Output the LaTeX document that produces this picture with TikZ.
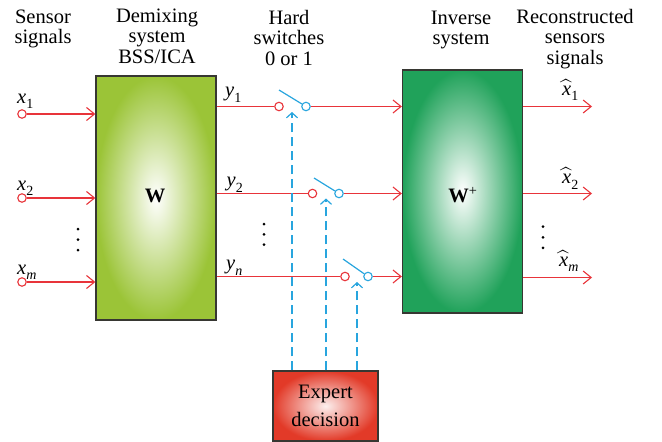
\documentclass[tikz,border=0pt]{standalone}
\usepackage{exscale}
\usepackage{fontspec}
\setmainfont{Liberation Serif}
\usetikzlibrary{arrows.meta}

\definecolor{sigred}{RGB}{232,52,58}
\definecolor{ctlblue}{RGB}{40,165,222}
\definecolor{demixgreen}{RGB}{155,196,55}
\definecolor{invgreen}{RGB}{32,162,90}
\definecolor{expertred}{RGB}{226,58,40}
\definecolor{framegray}{RGB}{55,55,50}

% italic signal names with subscripts
\newcommand{\sig}[2]{\textit{#1}\raisebox{-0.28em}{\fontsize{14}{14}\selectfont\textit{#2}}}
\newcommand{\sigr}[2]{\textit{#1}\raisebox{-0.28em}{\fontsize{14}{14}\selectfont #2}}
% a wide hat set above the italic letter
\newcommand{\hatted}[1]{$\widehat{\mbox{\itshape #1}}$}
\newcommand{\hatsig}[2]{\hatted{#1}\raisebox{-0.28em}{\fontsize{14}{14}\selectfont #2}}

\begin{document}
\begin{tikzpicture}[x=1pt,y=-1pt,
  font=\fontsize{20.5}{20.5}\selectfont,
  every node/.style={inner sep=0pt},
  sigline/.style={draw=sigred, line width=1.1pt},
  sigarrow/.style={sigline, -{Straight Barb[length=8pt,width=13pt]}},
  ctlline/.style={draw=ctlblue, line width=1.2pt},
  ctlarrow/.style={draw=ctlblue, line width=1.8pt, dash pattern=on 9pt off 5pt,
    -{Straight Barb[length=5pt,width=11pt,line width=1.2pt]}},
  port/.style={circle, minimum size=8.5pt, line width=1.1pt, fill=white},
  redport/.style={port, draw=sigred},
  blueport/.style={port, draw=ctlblue},
  block/.style={rectangle, draw=framegray, line width=1.3pt},
  title/.style={align=center, anchor=north},
  lab/.style={anchor=base west},
]
\useasboundingbox (0,0) rectangle (662,442);

% column headings
\node[title] (hsens) at (43,9) {\rule{0pt}{14pt}Sensor\\signals};
\node[title] (hdemix) at (157,8) {\rule{0pt}{14pt}Demixing\\system\\BSS/ICA};
\node[title] (hswitch) at (289,10) {\rule{0pt}{14pt}Hard\\switches\\0 or 1};
\node[title] (hinv) at (461,10) {\rule{0pt}{14pt}Inverse\\system};
\node[title] (hrec) at (575,9) {\rule{0pt}{14pt}Reconstructed\\sensors\\signals};

% processing blocks
\node[block, minimum width=120pt, minimum height=244pt,
      inner color=white, outer color=demixgreen] (demix) at (156,198) {};
\node[block, minimum width=120pt, minimum height=243pt,
      inner color=white, outer color=invgreen] (inv) at (462.5,191.5) {};
\node[block, minimum width=105pt, minimum height=70pt,
      inner color=white!92!expertred, outer color=expertred,
      align=center, font=\fontsize{20.5}{27.5}\selectfont] (expert) at (325.5,406) {Expert\\decision};

\node[anchor=base] (wlab) at (155,202.7) {\textbf{W}};
\node[anchor=base] (wplab) at (463,202.7) {\textbf{W}\textsuperscript{+}};

% sensor inputs
\node[redport] (in1) at (22,114) {};
\node[redport] (in2) at (22,198) {};
\node[redport] (in3) at (22,282) {};
\draw[sigarrow] (in1) -- (in1 -| demix.west);
\draw[sigarrow] (in2) -- (in2 -| demix.west);
\draw[sigarrow] (in3) -- (in3 -| demix.west);

\node[lab] (lx1) at (17,103) {\sigr{x}{1}};
\node[lab] (lx2) at (17,190) {\sigr{x}{2}};
\node[lab] (lx3) at (17,274) {\sig{x}{m}};

% switches: red input contact, blue output contact, open blade
\node[redport] (sw1a) at (279,106.5) {};
\node[blueport] (sw1b) at (306,106.5) {};
\coordinate (tip1) at (279,90);
\node[redport] (sw2a) at (312.5,193.5) {};
\node[blueport] (sw2b) at (339,193.5) {};
\coordinate (tip2) at (314,178);
\node[redport] (sw3a) at (345,276.5) {};
\node[blueport] (sw3b) at (368,276.5) {};
\coordinate (tip3) at (343,259);

\draw[sigline] (demix.east |- sw1a) -- (sw1a);
\draw[sigline] (demix.east |- sw2a) -- (sw2a);
\draw[sigline] (demix.east |- sw3a) -- (sw3a);

\draw[ctlline] (sw1b) -- (tip1);
\draw[ctlline] (sw2b) -- (tip2);
\draw[ctlline] (sw3b) -- (tip3);

\draw[sigarrow] (sw1b) -- (sw1b -| inv.west);
\draw[sigarrow] (sw2b) -- (sw2b -| inv.west);
\draw[sigarrow] (sw3b) -- (sw3b -| inv.west);

\node[lab] (ly1) at (225,96.7) {\sigr{y}{1}};
\node[lab] (ly2) at (226.5,186.7) {\sigr{y}{2}};
\node[lab] (ly3) at (226,269.3) {\sig{y}{n}};

% reconstructed outputs
\coordinate (out1) at (592,106.5);
\coordinate (out2) at (592,193.5);
\coordinate (out3) at (592,277.5);
\draw[sigarrow] (inv.east |- out1) -- (out1);
\draw[sigarrow] (inv.east |- out2) -- (out2);
\draw[sigarrow] (inv.east |- out3) -- (out3);

\node[lab] (lo1) at (562,95) {\hatsig{x}{1}};
\node[lab] (lo2) at (562,183.3) {\hatsig{x}{2}};
\node[lab] (lo3) at (559,266) {\hatsig{x}{\itshape m}};

% expert control lines
\coordinate (ctl1) at (292,112);
\coordinate (ctl2) at (326,198.5);
\coordinate (ctl3) at (357,282);
\draw[ctlarrow] (expert.north -| ctl1) -- (ctl1);
\draw[ctlarrow] (expert.north -| ctl2) -- (ctl2);
\draw[ctlarrow] (expert.north -| ctl3) -- (ctl3);

% vertical ellipses
\foreach \px/\py in {78/229, 78/239.5, 78/250,
                     264/224, 264/234.3, 264/244.7,
                     543/226.7, 543/237.3, 543/247.8}
  \fill (\px,\py) circle (1.5pt);
\end{tikzpicture}
\end{document}
